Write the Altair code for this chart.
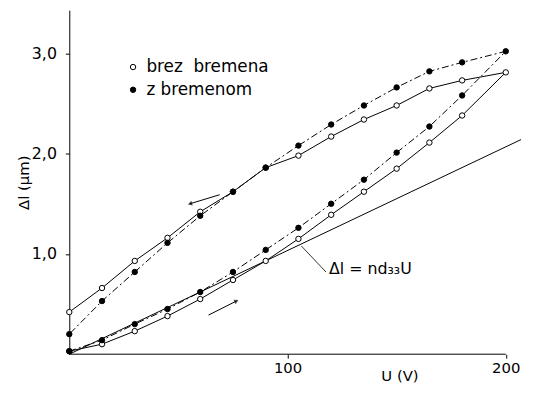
import altair as alt
import pandas as pd

# ---- data ----
U = [0, 15, 30, 45, 60, 75, 90, 105, 120, 135, 150, 165, 180, 200]
open_up = [0.03, 0.10, 0.23, 0.38, 0.55, 0.74, 0.93, 1.15, 1.39, 1.62, 1.85, 2.11, 2.38, 2.81]
open_down = [0.42, 0.66, 0.93, 1.16, 1.42, 1.62, 1.86, 1.98, 2.17, 2.34, 2.48, 2.65, 2.73, 2.81]
filled_up = [0.03, 0.14, 0.30, 0.45, 0.62, 0.82, 1.04, 1.26, 1.50, 1.74, 2.01, 2.27, 2.58, 3.02]
filled_down = [0.20, 0.53, 0.82, 1.11, 1.38, 1.62, 1.86, 2.08, 2.29, 2.48, 2.66, 2.82, 2.91, 3.02]
series_names = ["brez\u00a0\u00a0bremena", "z bremenom"]

lin_U = [0, 207]
lin_dl = [0.0, 2.14]

ann_text = ["Δl = nd₃₃U"]
ann_U = [119]
ann_dl = [0.80]
leader_U = [106.3, 117.6]
leader_dl = [1.08, 0.82]

arrow_up_U = [55.3, 68.9]
arrow_up_dl = [1.50, 1.59]
arrow_lo_U = [63.8, 76.6]
arrow_lo_dl = [0.39, 0.53]

axis_U = [0, 200]

# ---- tables ----
rows = []
for name, up, down in [(series_names[0], open_up, open_down), (series_names[1], filled_up, filled_down)]:
    k = 0
    for u, v in zip(U, up):
        rows.append({"series": name, "U": u, "dl": v, "ord": k}); k += 1
    for u, v in zip(reversed(U[:-1]), reversed(down[:-1])):
        rows.append({"series": name, "U": u, "dl": v, "ord": k}); k += 1
df = pd.DataFrame(rows)

FONT = "DejaVu Sans"
xs = alt.Scale(domain=[0, 207], nice=False, zero=False)
ys = alt.Scale(domain=[0, 3.43], nice=False, zero=False)

base = alt.Chart(df)

x_main = alt.X("U:Q", scale=xs, axis=alt.Axis(
    values=[100, 200], title="U (V)", domain=False, tickSize=4, tickColor="black",
    labelFontSize=15, labelFont=FONT, labelColor="black", labelPadding=3,
    titleFont=FONT, titleFontSize=15, titleFontWeight="normal", titleColor="black",
    titleX=334, titleY=22, titleBaseline="middle", titleAlign="center", grid=False))
y_main = alt.Y("dl:Q", scale=ys, axis=alt.Axis(
    values=[1, 2, 3], labelExpr="replace(format(datum.value, '.1f'), '.', ',')",
    title="Δl (μm)", domainColor="black", tickSize=4, tickColor="black",
    labelFontSize=16, labelFont=FONT, labelColor="black", labelPadding=9,
    titleFont=FONT, titleFontSize=15, titleFontWeight="normal", titleColor="black",
    titleX=-46, titleY=174, titleAngle=270, titleBaseline="middle", titleAlign="center",
    grid=False))

line_open = base.transform_filter(alt.datum.series == series_names[0]).mark_line(
    color="black", strokeWidth=1).encode(x=x_main, y=y_main, order="ord:Q")
line_filled = base.transform_filter(alt.datum.series == series_names[1]).mark_line(
    color="black", strokeWidth=1, strokeDash=[7, 3, 2, 3]).encode(
    x=alt.X("U:Q", scale=xs), y=alt.Y("dl:Q", scale=ys), order="ord:Q")

points = base.mark_point(shape="circle", filled=True, stroke="black", strokeWidth=1, size=30, opacity=1).encode(
    x=alt.X("U:Q", scale=xs),
    y=alt.Y("dl:Q", scale=ys),
    fill=alt.Fill("series:N", scale=alt.Scale(domain=series_names, range=["white", "black"]),
                  legend=alt.Legend(title=None, orient="none", legendX=56, legendY=49,
                                    symbolType="circle", symbolSize=30, symbolStrokeColor="black",
                                    symbolStrokeWidth=1, labelFont=FONT, labelFontSize=17,
                                    labelColor="black", rowPadding=5, labelOffset=5)),
)

lin_df = pd.DataFrame({"U": lin_U, "dl": lin_dl})
linear = alt.Chart(lin_df).mark_line(color="black", strokeWidth=1, clip=True).encode(
    x=alt.X("U:Q", scale=xs), y=alt.Y("dl:Q", scale=ys))

ann = alt.Chart(pd.DataFrame({"U": ann_U, "dl": ann_dl, "t": ann_text})).mark_text(
    align="left", baseline="alphabetic", font=FONT, fontSize=16, color="black").encode(
    x=alt.X("U:Q", scale=xs), y=alt.Y("dl:Q", scale=ys), text="t:N")

leader = alt.Chart(pd.DataFrame({"U": leader_U, "dl": leader_dl})).mark_line(color="black", strokeWidth=0.8).encode(
    x=alt.X("U:Q", scale=xs), y=alt.Y("dl:Q", scale=ys))

arr1 = alt.Chart(pd.DataFrame({"U": arrow_up_U, "dl": arrow_up_dl})).mark_line(color="black", strokeWidth=1).encode(
    x=alt.X("U:Q", scale=xs), y=alt.Y("dl:Q", scale=ys))
head1 = alt.Chart(pd.DataFrame({"U": arrow_up_U[:1], "dl": arrow_up_dl[:1]})).mark_point(
    shape="triangle-left", filled=True, color="black", size=25, angle=343).encode(
    x=alt.X("U:Q", scale=xs), y=alt.Y("dl:Q", scale=ys))
arr2 = alt.Chart(pd.DataFrame({"U": arrow_lo_U, "dl": arrow_lo_dl})).mark_line(color="black", strokeWidth=1).encode(
    x=alt.X("U:Q", scale=xs), y=alt.Y("dl:Q", scale=ys))
head2 = alt.Chart(pd.DataFrame({"U": arrow_lo_U[1:], "dl": arrow_lo_dl[1:]})).mark_point(
    shape="triangle-right", filled=True, color="black", size=25, angle=333).encode(
    x=alt.X("U:Q", scale=xs), y=alt.Y("dl:Q", scale=ys))

xaxis = alt.Chart(pd.DataFrame({"U": axis_U[:1], "U2": axis_U[1:], "dl": [0]})).mark_rule(color="black", strokeWidth=1).encode(
    x=alt.X("U:Q", scale=xs), x2="U2:Q", y=alt.Y("dl:Q", scale=ys))

chart = alt.layer(line_open, xaxis, linear, line_filled, leader, arr1, head1, arr2, head2, ann, points).properties(
    width=457, height=348,
    padding={"left": 62, "top": 0, "right": 4, "bottom": 34},
    autosize=alt.AutoSizeParams(type="none"),
    background="white",
).configure_view(stroke=None)

chart.save("out.html", embed_options={"renderer": "svg", "actions": False})
